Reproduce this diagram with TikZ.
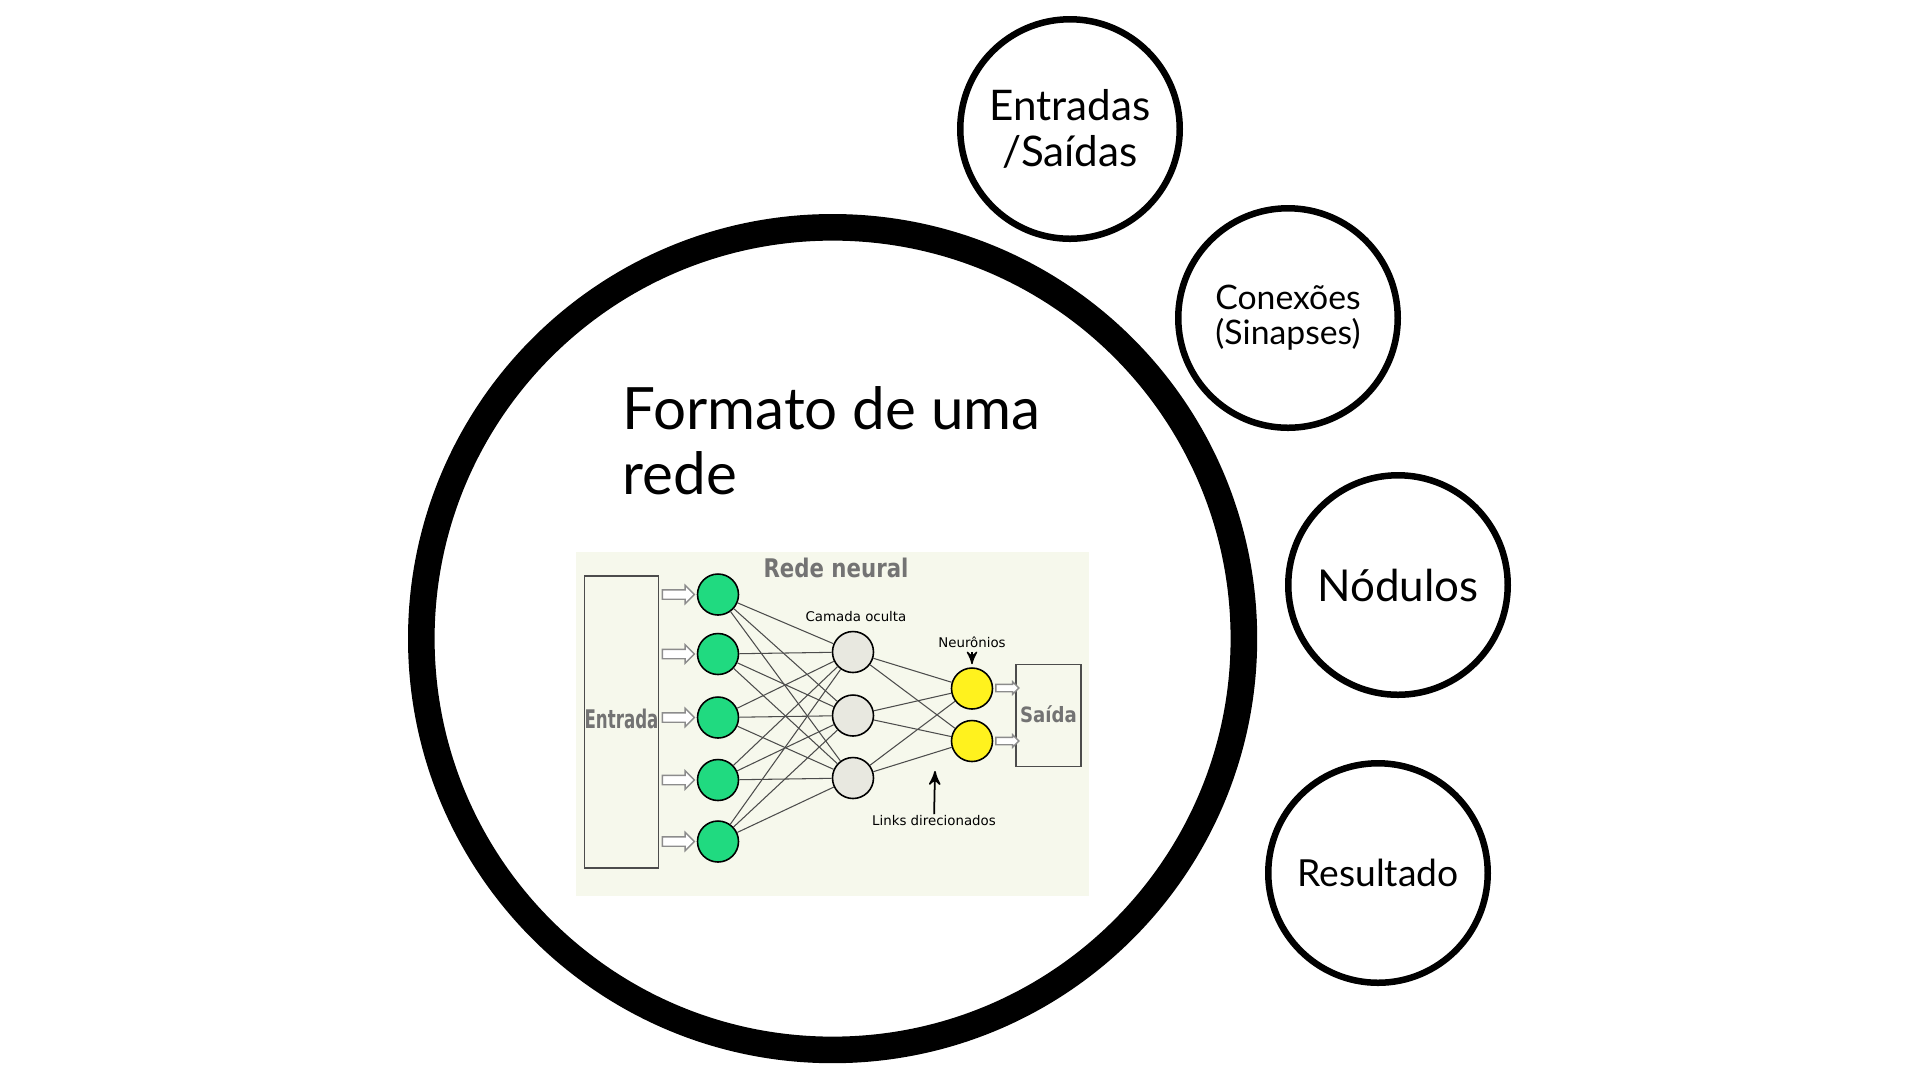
\documentclass[tikz,border=0pt]{standalone}
\usepackage{fontspec}
\setmainfont{Lato}
\newfontfamily\netfont{DejaVu Sans}
\usetikzlibrary{%
  arrows,%
  shapes.arrows%
}
\definecolor{netbg}{RGB}{246,248,236}
\definecolor{ingreen}{RGB}{32,218,128}
\definecolor{hidgray}{RGB}{232,232,224}
\definecolor{outyellow}{RGB}{255,242,30}

\begin{document}
\begin{tikzpicture}
[x=0.1mm, y=-0.1mm, >=stealth',
topic/.style={circle, draw, line width=0.65mm, inner sep=0pt, minimum size=21.95mm, align=center},
neuron/.style={circle, draw, line width=0.45pt, inner sep=0pt, minimum size=4.1mm},
netbox/.style={rectangle, draw=black!70, line width=0.5pt, fill=netbg, inner sep=0pt, text=black!55},
inarrow/.style={single arrow, draw=black!45, fill=white, line width=0.4pt, inner sep=0.4mm, single arrow head extend=0.45mm, minimum height=3.2mm},
outarrow/.style={single arrow, draw=black!45, fill=white, line width=0.4pt, inner sep=0.3mm, single arrow head extend=0.25mm, minimum height=2.3mm},
netnote/.style={inner sep=0pt, font=\netfont\fontsize{3.8}{4.5}\selectfont},
every edge/.style={draw=black!70, line width=0.3pt}]

\useasboundingbox (0,0) rectangle (1920,1080);

% big circle
\node[circle, draw, line width=2.66mm, inner sep=0pt, minimum size=82.26mm] (rede) at (832.6,638.6) {};
\node[anchor=north west, inner sep=0pt, align=left, font=\fontsize{16.6}{18.5}\selectfont] (titulo) at (622,386) {Formato de uma\\rede};

% topics
\node[topic, font=\fontsize{12}{13.3}\selectfont] (entradas) at (1070,129) {Entradas\\/Saídas};
\node[topic, font=\fontsize{9.6}{10}\selectfont] (conexoes) at (1288,318) {Conexões\\(Sinapses)};
\node[topic, font=\fontsize{12.5}{14}\selectfont] (nodulos) at (1398,585) {Nódulos};
\node[topic, font=\fontsize{10.6}{12}\selectfont] (resultado) at (1378,873) {Resultado};

% network picture
\node[fill=netbg, inner sep=0pt, minimum width=51.3mm, minimum height=34.4mm] (figura) at (832,724) {};
\node[inner sep=0pt, text=black!55, font=\netfont\bfseries\fontsize{7.3}{8}\selectfont] (rotulo) at (836,568) {\scalebox{0.83}[1]{Rede neural}};
\node[netbox, minimum width=7.1mm, minimum height=29.2mm, font=\netfont\bfseries\fontsize{7.3}{8}\selectfont] (entrada) at (621.5,722) {\raisebox{0.6mm}{\scalebox{0.65}[1]{Entrada}}};
\node[netbox, minimum width=6.5mm, minimum height=10.2mm, font=\netfont\bfseries\fontsize{6}{7}\selectfont] (saida) at (1048.5,715.5) {\raisebox{0.2mm}{\scalebox{0.86}[1]{Saída}}};

\node[inarrow] (seta1) at (676,594.5) {};
\node[inarrow] (seta2) at (676,654) {};
\node[inarrow] (seta3) at (676,717.5) {};
\node[inarrow] (seta4) at (676,780) {};
\node[inarrow] (seta5) at (676,841.5) {};

\node[neuron, fill=ingreen] (in1) at (718,594.5) {};
\node[neuron, fill=ingreen] (in2) at (718,654) {};
\node[neuron, fill=ingreen] (in3) at (718,717.5) {};
\node[neuron, fill=ingreen] (in4) at (718,780) {};
\node[neuron, fill=ingreen] (in5) at (718,841.5) {};

\node[neuron, fill=hidgray] (oc1) at (853,652) {}
  edge (in1) edge (in2) edge (in3) edge (in4) edge (in5);
\node[neuron, fill=hidgray] (oc2) at (853,715.5) {}
  edge (in1) edge (in2) edge (in3) edge (in4) edge (in5);
\node[neuron, fill=hidgray] (oc3) at (853,778) {}
  edge (in1) edge (in2) edge (in3) edge (in4) edge (in5);

\node[neuron, fill=outyellow] (out1) at (972,688.5) {}
  edge (oc1) edge (oc2) edge (oc3);
\node[neuron, fill=outyellow] (out2) at (972,741) {}
  edge (oc1) edge (oc2) edge (oc3);

\node[outarrow] (sseta1) at (1005.5,688) {};
\node[outarrow] (sseta2) at (1005.5,741) {};

\node[netnote] (camada) at (856,616.4) {Camada oculta};
\node[netnote] (neuronios) at (972,642) {Neurônios};
\node[netnote] (links) at (934,820) {Links direcionados};
\coordinate (linkalvo) at (935,771);

\draw[->, line width=0.4pt, shorten <=0.4mm, shorten >=0.3mm] (neuronios) -- (out1);
\draw[->, line width=0.5pt] (links) -- (linkalvo);
\end{tikzpicture}
\end{document}
